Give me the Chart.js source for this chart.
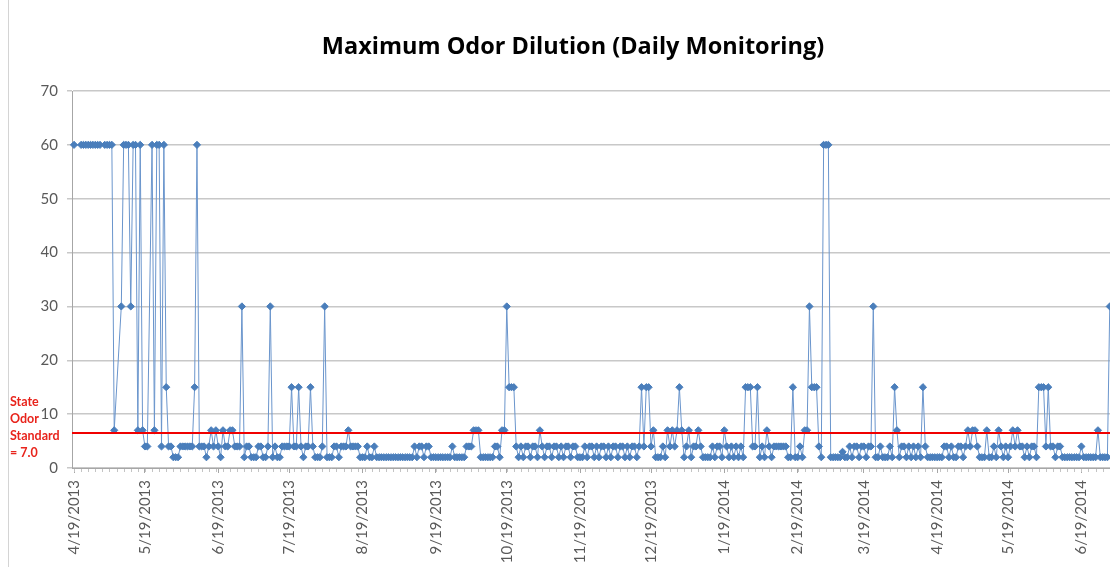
<!DOCTYPE html>
<html><head><meta charset="utf-8">
<script src="https://cdn.jsdelivr.net/npm/chart.js@4/dist/chart.umd.min.js"></script>
<style>
html,body{margin:0;padding:0;background:#fff;}
#wrap{position:relative;width:1110px;height:567px;overflow:hidden;}
#frame{position:absolute;left:8px;top:0;width:1px;height:567px;background:#d4d4d4;}
</style>
</head><body>
<div id="wrap"><canvas id="c" width="1110" height="567"></canvas><div id="frame"></div></div>
<script>
const chartTitle = 'Maximum Odor Dilution (Daily Monitoring)';
const startDate = '4/19/2013';
// one value per day from startDate; null = no reading that day
const odorValues = [
  60,null,null,60,60,60,60,60,60,60,
  60,60,null,60,60,60,60,7,null,null,
  30,60,60,60,30,60,60,7,60,7,
  4,4,null,60,7,60,60,4,60,15,
  4,4,2,2,2,4,4,4,4,4,
  4,15,60,4,4,4,2,4,7,4,
  7,4,2,7,4,4,7,7,4,4,
  4,30,2,4,4,2,2,2,4,4,
  2,2,4,30,2,4,2,2,4,4,
  4,4,15,4,4,15,4,2,4,4,
  15,4,2,2,2,4,30,2,2,2,
  4,4,2,4,4,4,7,4,4,4,
  4,2,2,2,4,2,2,4,2,2,
  2,2,2,2,2,2,2,2,2,2,
  2,2,2,2,4,2,4,4,2,4,
  4,2,2,2,2,2,2,2,2,2,
  4,2,2,2,2,2,4,4,4,7,
  7,7,2,2,2,2,2,2,4,4,
  2,7,7,30,15,15,15,4,2,4,
  2,4,4,2,4,4,2,7,4,2,
  4,4,2,4,4,2,4,2,4,4,
  2,4,4,2,2,2,4,2,4,4,
  2,4,2,4,4,2,4,2,4,4,
  2,4,4,2,4,2,4,4,2,4,
  15,4,15,15,4,7,2,2,2,4,
  2,7,4,7,4,7,15,7,2,4,
  7,2,4,4,7,4,2,2,2,2,
  4,2,4,4,2,7,4,2,4,2,
  4,2,4,2,15,15,15,4,4,15,
  2,4,2,7,4,2,4,4,4,4,
  4,4,2,2,15,2,2,4,2,7,
  7,30,15,15,15,4,2,60,60,60,
  2,2,2,2,2,3,2,2,4,2,
  4,4,2,4,4,2,4,4,30,2,
  2,4,2,2,2,4,2,15,7,2,
  4,4,2,4,2,4,2,4,2,15,
  4,2,2,2,2,2,2,2,4,4,
  2,4,2,2,4,4,2,4,7,4,
  7,7,4,2,2,2,7,2,2,4,
  2,7,4,2,4,2,4,7,4,7,
  4,4,2,4,2,4,4,2,15,15,
  15,4,15,4,4,2,4,4,2,2,
  2,2,2,2,2,2,4,2,2,2,
  2,2,2,7,2,2,2,2,30
];
const tickLabels = ['4/19/2013','5/19/2013','6/19/2013','7/19/2013','8/19/2013','9/19/2013','10/19/2013',
  '11/19/2013','12/19/2013','1/19/2014','2/19/2014','3/19/2014','4/19/2014','5/19/2014','6/19/2014'];
const yTicks = [0,10,20,30,40,50,60,70];
const standardLevel = 6.5;   // where the red standard line is drawn
const standardText = ['State','Odor','Standard','= 7.0'];

function parseDate(s){ const p=s.split('/').map(Number); return Date.UTC(p[2],p[0]-1,p[1]); }
const t0 = parseDate(startDate);
const tickDays = tickLabels.map(s => Math.round((parseDate(s)-t0)/86400000));
const labelByDay = {}; tickDays.forEach((d,i)=>labelByDay[d]=tickLabels[i]);
const X_MIN = -0.85, X_MAX = 438.1;

const FONT = 'Lato, "Open Sans", sans-serif';
const TITLE_FONT = '"Open Sans", Lato, sans-serif';

const decor = {
  id:'decor',
  afterDatasetsDraw(chart){
    const ctx = chart.ctx, xs = chart.scales.x, ys = chart.scales.y;
    ctx.save();
    ctx.strokeStyle = '#c4c4c4'; ctx.lineWidth = 1;
    const yb = chart.chartArea.bottom;
    for(let d=0; d<=X_MAX; d+=3){
      const px = Math.round(xs.getPixelForValue(d))+0.5;
      ctx.beginPath(); ctx.moveTo(px, yb+1); ctx.lineTo(px, yb+4); ctx.stroke();
    }
    const ly = ys.getPixelForValue(standardLevel);
    ctx.fillStyle = '#e8241c';
    ctx.font = 'bold 12.5px ' + FONT;
    ctx.textAlign = 'left'; ctx.textBaseline = 'middle';
    standardText.forEach((t,i)=> ctx.fillText(t, 10, ly - 30.6 + i*16.7));
    ctx.restore();
  }
};

new Chart(document.getElementById('c'), {
  type:'line',
  data:{ datasets:[
    { label:'Standard', data:[{x:X_MIN,y:standardLevel},{x:X_MAX,y:standardLevel}],
      borderColor:'#f00000', borderWidth:2, pointRadius:0, order:0 },
    { label:'Max odor dilution', data: odorValues.map((v,i)=>({x:i,y:v})),
      borderColor:'#6a95cc', borderWidth:1, spanGaps:true, clip:false,
      pointStyle:'rectRot', pointRadius:3.6, pointBorderWidth:1,
      pointBackgroundColor:'#4a7ebb', pointBorderColor:'#4a7ebb', order:1 }
  ]},
  options:{
    responsive:false, animation:false, devicePixelRatio:1,
    layout:{ autoPadding:false, padding:{ left:36, right:0, top:0, bottom:0 } },
    plugins:{
      legend:{display:false}, tooltip:{enabled:false},
      title:{ display:true, text:chartTitle, color:'#000',
        font:{family:TITLE_FONT, size:23.5, weight:'bold'}, padding:{top:32.9, bottom:29.9} }
    },
    scales:{
      x:{ type:'linear', min:X_MIN, max:X_MAX,
        afterBuildTicks:(s)=>{ s.ticks = tickDays.map(v=>({value:v})); },
        afterFit:(s)=>{ s.height = 99; s.paddingRight = 0; s.paddingLeft = 0; },
        ticks:{ autoSkip:false, maxRotation:90, minRotation:90, padding:7,
          color:'#595959', font:{family:FONT, size:15},
          callback:(v)=>labelByDay[v] },
        grid:{ drawOnChartArea:false, tickLength:5, color:'#a6a6a6' },
        border:{ color:'#a6a6a6', width:1 } },
      y:{ min:0, max:70,
        afterBuildTicks:(s)=>{ s.ticks = yTicks.map(v=>({value:v})); },
        afterFit:(s)=>{ s.width = 36; },
        ticks:{ padding:9, color:'#595959', font:{family:FONT, size:15} },
        grid:{ color:'#c8c8c8', lineWidth:1.5, tickLength:5 },
        border:{ color:'#a6a6a6', width:1 } }
    }
  },
  plugins:[decor]
});
</script>
</body></html>
